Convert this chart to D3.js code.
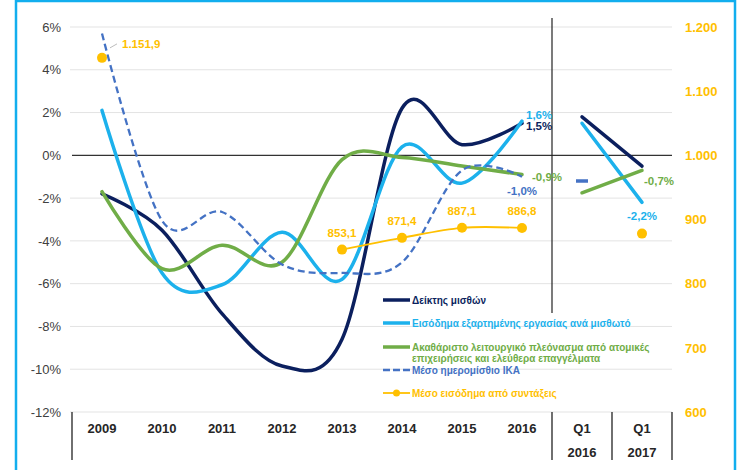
<!DOCTYPE html>
<html>
<head>
<meta charset="utf-8">
<script src="https://cdn.jsdelivr.net/npm/d3@7"></script>
<style>
  body { margin: 0; background: #fff; font-family: "Liberation Sans", Arial, sans-serif; }
</style>
</head>
<body>
<div id="chart"></div>
<script>
const categories = ["2009", "2010", "2011", "2012", "2013", "2014", "2015", "2016", "Q1|2016", "Q1|2017"];
const leftTicks = [6, 4, 2, 0, -2, -4, -6, -8, -10, -12];
const rightTicks = [1200, 1100, 1000, 900, 800, 700, 600];

// % change series
const wageIndex    = [-1.8, -3.5, -7.4, -9.85, -8.6, 2.2, 0.5, 1.5, 1.8, -0.5];
const compEmployee = [2.1, -5.5, -6.05, -3.6, -5.8, 0.4, -1.3, 1.6, 1.5, -2.2];
const grossSurplus = [-1.7, -5.3, -4.2, -5.0, -0.2, -0.1, -0.5, -0.9, -1.75, -0.7];
const ikaWage      = [5.7, -3.05, -2.65, -5.1, -5.5, -5.0, -0.7, -1.0, -1.2, null];
// euros, right axis
const pensions     = [1151.9, null, null, null, 853.1, 871.4, 887.1, 886.8, null, 878];

const legendNames = [
  "Δείκτης μισθών",
  "Εισόδημα εξαρτημένης εργασίας ανά μισθωτό",
  "Ακαθάριστο λειτουργικό πλεόνασμα από ατομικές|επιχειρήσεις και ελεύθερα επαγγέλματα",
  "Μέσο ημερομίσθιο ΙΚΑ",
  "Μέσο εισόδημα από συντάξεις"
];

const width = 740, height = 470;
const colors = { navy: "#0b1f5e", light: "#1cb1ec", green: "#70ad47", dash: "#4472c4", yellow: "#ffc000" };

const grLocale = d3.formatLocale({ decimal: ",", thousands: ".", grouping: [3], currency: ["", "€"], minus: "-" });
const fmtThousands = grLocale.format(",");
const fmtEuro = grLocale.format(",.1f");
const fmtPct = v => grLocale.format(".1f")(v) + "%";

const svg = d3.select("#chart").append("svg")
  .attr("width", width).attr("height", height);

// outer frame
svg.append("rect")
  .attr("x", 16).attr("y", 1).attr("width", 719).attr("height", 520)
  .attr("fill", "none").attr("stroke", "#12aeee").attr("stroke-width", 2.5);

const x = d3.scaleBand().domain(categories).range([72, 672]);
const y = d3.scaleLinear().domain([-12, 6]).range([412, 27]);
const y2 = d3.scaleLinear().domain([600, 1200]).range([412, 27]);
const cx = c => x(c) + x.bandwidth() / 2;

// gridlines
svg.append("g").selectAll("line")
  .data(leftTicks.filter(t => t !== 0))
  .enter().append("line")
  .attr("x1", 70).attr("x2", 672)
  .attr("y1", d => y(d)).attr("y2", d => y(d))
  .attr("stroke", "#e3e3e3").attr("stroke-width", 1);

svg.append("line")
  .attr("x1", 72).attr("x2", 672).attr("y1", y(0)).attr("y2", y(0))
  .attr("stroke", "#333").attr("stroke-width", 1.3);

// left axis
const yAxis = svg.append("g")
  .attr("transform", "translate(61,0)")
  .call(d3.axisLeft(y).tickValues(leftTicks).tickSize(0).tickPadding(0).tickFormat(d => d + "%"));
yAxis.select(".domain").remove();
yAxis.selectAll("text")
  .attr("fill", "#404040").style("font-size", "13px")
  .style("font-family", "'Liberation Sans', Arial, sans-serif");

// right axis
const y2Axis = svg.append("g")
  .attr("transform", "translate(685,0)")
  .call(d3.axisRight(y2).tickValues(rightTicks).tickSize(0).tickPadding(0).tickFormat(fmtThousands));
y2Axis.select(".domain").remove();
y2Axis.selectAll("text")
  .attr("fill", colors.yellow).style("font-size", "13px").style("font-weight", "bold")
  .style("font-family", "'Liberation Sans', Arial, sans-serif");

// divider between years and quarters
svg.append("line")
  .attr("x1", x("Q1|2016")).attr("x2", x("Q1|2016")).attr("y1", 18).attr("y2", 313)
  .attr("stroke", "#222").attr("stroke-width", 1.2);

// category axis
[x("2009"), x("Q1|2016"), x("Q1|2017"), 672].forEach(px => {
  svg.append("line")
    .attr("x1", px).attr("x2", px).attr("y1", 412).attr("y2", 460)
    .attr("stroke", "#222").attr("stroke-width", 1.3);
});
const catLabels = svg.append("g").selectAll("text")
  .data(categories)
  .enter().append("text")
  .attr("x", d => cx(d))
  .attr("y", 433)
  .attr("text-anchor", "middle")
  .attr("fill", "#262626")
  .style("font-size", "13px").style("font-weight", "bold");
catLabels.each(function (d) {
  const parts = d.split("|");
  d3.select(this).selectAll("tspan")
    .data(parts).enter().append("tspan")
    .attr("x", cx(d)).attr("dy", (p, i) => i === 0 ? 0 : 24)
    .text(p => p);
});

// lines
const pct = (vals) => categories.map((c, i) => ({ c, v: vals[i] }));
const line = d3.line()
  .defined(d => d.v != null)
  .x(d => cx(d.c)).y(d => y(d.v))
  .curve(d3.curveCardinal.tension(0));
const line2 = d3.line()
  .defined(d => d.v != null)
  .x(d => cx(d.c)).y(d => y2(d.v))
  .curve(d3.curveCardinal.tension(0));

function drawSeries(vals, color, w, dash) {
  const pts = pct(vals);
  [pts.slice(0, 8), pts.slice(8)].forEach(part => {
    svg.append("path")
      .datum(part)
      .attr("d", line)
      .attr("fill", "none")
      .attr("stroke", color)
      .attr("stroke-width", w)
      .attr("stroke-dasharray", dash || null)
      .attr("stroke-linecap", dash ? "butt" : "round");
  });
}
drawSeries(wageIndex, colors.navy, 3.5);
drawSeries(compEmployee, colors.light, 3.5);
drawSeries(grossSurplus, colors.green, 3.5);
drawSeries(ikaWage, colors.dash, 2.3, "7,4");

// IKA single quarterly value shown as a dash
svg.append("line")
  .attr("x1", cx("Q1|2016") - 6).attr("x2", cx("Q1|2016") + 6)
  .attr("y1", y(ikaWage[8])).attr("y2", y(ikaWage[8]))
  .attr("stroke", colors.dash).attr("stroke-width", 3.5);

// pensions
const penPts = pct(pensions);
svg.append("path")
  .datum(penPts.slice(0, 8))
  .attr("d", line2)
  .attr("fill", "none").attr("stroke", colors.yellow).attr("stroke-width", 1.8);
svg.append("g").selectAll("circle")
  .data(penPts.filter(d => d.v != null))
  .enter().append("circle")
  .attr("cx", d => cx(d.c)).attr("cy", d => y2(d.v)).attr("r", 5)
  .attr("fill", colors.yellow);

const penLabels = penPts.filter((d, i) => d.v != null && i > 0 && i < 8);
svg.append("g").selectAll("text")
  .data(penLabels)
  .enter().append("text")
  .attr("x", d => cx(d.c)).attr("y", d => y2(d.v) - 13)
  .attr("text-anchor", "middle")
  .attr("fill", colors.yellow)
  .style("font-size", "11.5px").style("font-weight", "bold")
  .text(d => fmtEuro(d.v));

// 2009 pension label with leader line
svg.append("line")
  .attr("x1", cx("2009") + 8).attr("y1", y2(pensions[0]) - 10)
  .attr("x2", cx("2009") + 15).attr("y2", y2(pensions[0]) - 14)
  .attr("stroke", "#bdbdbd").attr("stroke-width", 1);
svg.append("text")
  .attr("x", cx("2009") + 20).attr("y", y2(pensions[0]) - 10)
  .attr("fill", colors.yellow)
  .style("font-size", "11.5px").style("font-weight", "bold")
  .text(fmtEuro(pensions[0]));

// end labels
function endLabel(vals, i, color, dx, dy, anchor) {
  svg.append("text")
    .attr("x", cx(categories[i]) + dx)
    .attr("y", y(vals[i]) + dy)
    .attr("text-anchor", anchor)
    .attr("fill", color)
    .style("font-size", "11.5px").style("font-weight", "bold")
    .text(fmtPct(vals[i]));
}
endLabel(compEmployee, 7, colors.light, 4, -2, "start");
endLabel(wageIndex, 7, colors.navy, 4, 7, "start");
endLabel(grossSurplus, 7, colors.green, 10, 6, "start");
endLabel(ikaWage, 7, colors.dash, 0, 18, "middle");
endLabel(grossSurplus, 9, colors.green, 2, 15, "start");
endLabel(compEmployee, 9, colors.light, 0, 18, "middle");

// legend
const legendRows = [
  { name: legendNames[0], color: colors.navy, y: 300, type: "solid" },
  { name: legendNames[1], color: colors.light, y: 323, type: "solid" },
  { name: legendNames[2], color: colors.green, y: 347, type: "solid" },
  { name: legendNames[3], color: colors.dash, y: 370, type: "dash" },
  { name: legendNames[4], color: colors.yellow, y: 393, type: "marker" }
];
const legend = svg.append("g");
legendRows.forEach(r => {
  const g = legend.append("g");
  g.append("line")
    .attr("x1", 383).attr("x2", 410).attr("y1", r.y).attr("y2", r.y)
    .attr("stroke", r.color)
    .attr("stroke-width", r.type === "solid" ? 3.5 : (r.type === "dash" ? 2.5 : 1.8))
    .attr("stroke-dasharray", r.type === "dash" ? "7,3" : null);
  if (r.type === "marker") {
    g.append("circle").attr("cx", 396.5).attr("cy", r.y).attr("r", 3.5).attr("fill", r.color);
  }
  const t = g.append("text")
    .attr("x", 412).attr("y", r.y + 3.5)
    .attr("fill", r.color)
    .style("font-size", "10px").style("font-weight", "bold");
  r.name.split("|").forEach((p, i) => {
    t.append("tspan").attr("x", 412).attr("dy", i === 0 ? 0 : 11.5).text(p);
  });
});
</script>
</body>
</html>
